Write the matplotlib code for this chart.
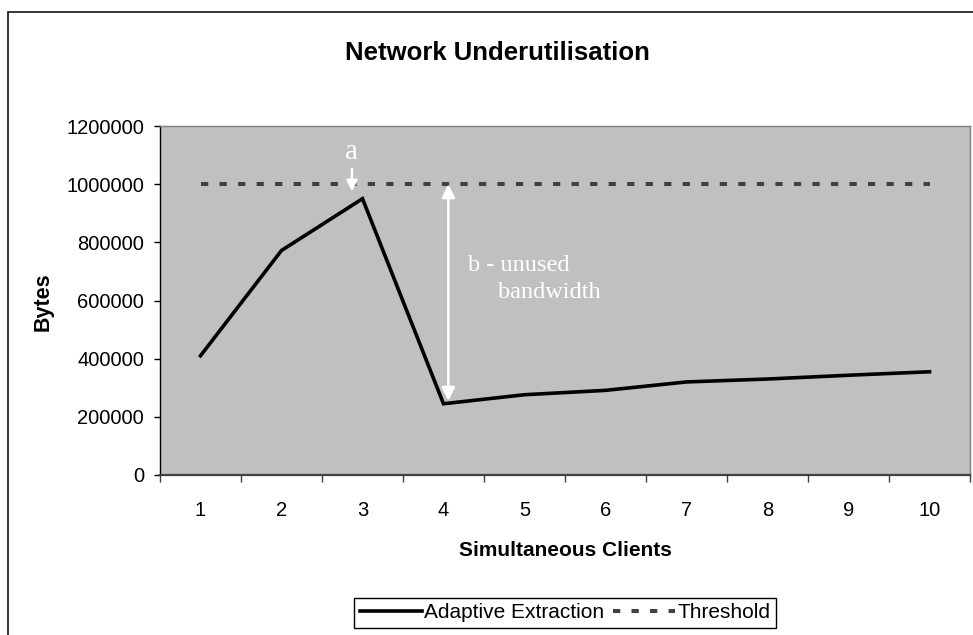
import matplotlib
matplotlib.use("Agg")
import matplotlib.pyplot as plt
from matplotlib.patches import Rectangle

# ---- data ----
clients = [1, 2, 3, 4, 5, 6, 7, 8, 9, 10]
adaptive = [410000, 772000, 950000, 245000, 276000, 291000, 320000, 330000, 343000, 355000]
threshold = [1000000] * 10
y_ticks = [0, 200000, 400000, 600000, 800000, 1000000, 1200000]

title = "Network Underutilisation"
xlabel = "Simultaneous Clients"
ylabel = "Bytes"
series_names = ["Adaptive Extraction", "Threshold"]

plt.rcParams['font.family'] = ['Liberation Sans', 'DejaVu Sans']

fig = plt.figure(figsize=(9.73, 6.35), dpi=100)
ax = fig.add_axes([160/973, 1-475/635, 810/973, 349/635])
ax.set_facecolor('#c0c0c0')

ax.plot(clients, adaptive, color='black', lw=2.6, solid_joinstyle='miter',
        label=series_names[0], zorder=3)
ax.plot(clients, threshold, color='#404040', lw=2.9, linestyle=(0, (1.8, 2.8)),
        dash_capstyle='butt', label=series_names[1], zorder=3)

ax.set_xlim(0.5, 10.5)
ax.set_ylim(0, 1200000)
ax.set_yticks(y_ticks)
ax.set_yticklabels([str(v) for v in y_ticks], fontsize=14.5)
ax.tick_params(axis='y', direction='out', length=4.5, width=1, pad=7, colors='black')

ax.set_xticks([c - 0.5 for c in clients] + [clients[-1] + 0.5])
ax.set_xticklabels([])
ax.set_xticks(clients, minor=True)
ax.set_xticklabels([str(c) for c in clients], minor=True, fontsize=14.5)
ax.tick_params(axis='x', which='major', direction='out', length=5, width=1, color='#404040')
ax.tick_params(axis='x', which='minor', length=0, pad=19)

ax.spines['left'].set_color('black')
ax.spines['left'].set_linewidth(1)
ax.spines['bottom'].set_color('#404040')
ax.spines['bottom'].set_linewidth(1.6)
ax.spines['top'].set_color('#808080')
ax.spines['right'].set_color('#808080')
ax.spines['top'].set_linewidth(1)
ax.spines['right'].set_linewidth(1)

# annotations
ax.annotate('', xy=(2.87, 975000), xytext=(2.87, 1052000),
            arrowprops=dict(arrowstyle='-|>', color='white', lw=1.8,
                            mutation_scale=16, shrinkA=0, shrinkB=0), zorder=4)
ax.text(2.87, 1110000, 'a', color='white', fontsize=21, ha='center', va='center',
        family=['Liberation Serif', 'DejaVu Serif'])
ax.annotate('', xy=(4.06, 255000), xytext=(4.06, 1000000),
            arrowprops=dict(arrowstyle='<|-|>', color='white', lw=1.8,
                            mutation_scale=20, shrinkA=0, shrinkB=0), zorder=4)
ax.text(4.30, 722000, 'b - unused', color='white', fontsize=17.5, ha='left', va='center',
        family=['Liberation Serif', 'DejaVu Serif'])
ax.text(4.67, 626000, 'bandwidth', color='white', fontsize=17.5, ha='left', va='center',
        family=['Liberation Serif', 'DejaVu Serif'])

# titles
fig.text(497.5/973, 1-53/635, title, fontsize=18.5, fontweight='bold',
         ha='center', va='center')
fig.text(565/973, 1-550/635, xlabel, fontsize=15, fontweight='bold',
         ha='center', va='center')
fig.text(43/973, 1-302/635, ylabel, fontsize=15.5, fontweight='bold',
         ha='center', va='center', rotation=90)

leg = ax.legend(loc='center', bbox_to_anchor=(565/973, 1-613/635),
                bbox_transform=fig.transFigure, ncol=2, fontsize=15,
                frameon=True, fancybox=False, framealpha=1, edgecolor='black',
                borderpad=0.25, handlelength=3.0, handletextpad=0.1,
                columnspacing=0.4, borderaxespad=0)
leg.get_frame().set_linewidth(1)

# outer chart frame
fig.patches.append(Rectangle((8/973, -0.05), 1.2, 1 - 11.5/635 + 0.05,
                             transform=fig.transFigure, fill=False,
                             edgecolor='black', lw=1.1))

fig.savefig('out.png', dpi=100)
